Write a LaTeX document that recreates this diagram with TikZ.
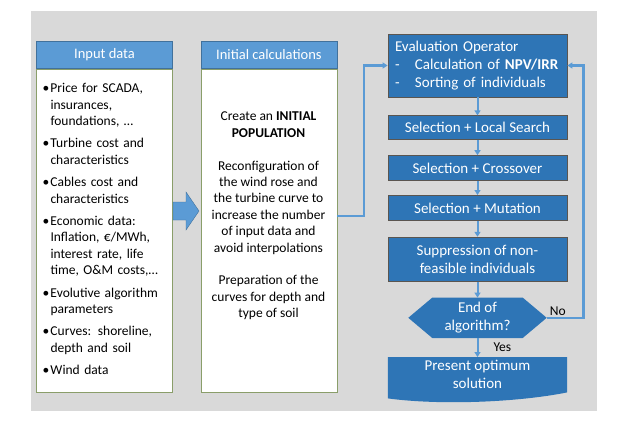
\documentclass[tikz,border=0pt]{standalone}
\usepackage{fontspec}
\setmainfont{Carlito}
\definecolor{hdblue}{HTML}{5B9BD5}
\definecolor{hdline}{HTML}{41719C}
\definecolor{opblue}{HTML}{2E75B6}
\definecolor{opline}{HTML}{5A5550}
\definecolor{bggray}{HTML}{D9D9D9}
\definecolor{olivebd}{HTML}{8A9E6A}
\usepackage{tikz}
\usetikzlibrary{arrows.meta,positioning,backgrounds}
\newcommand{\bul}[1]{\noindent\makebox[8pt][l]{\textbullet}\parbox[t]{116pt}{\raggedright\strut #1\strut}\par}

\begin{document}
\begin{tikzpicture}[x=1pt,y=-1pt,
  node distance=15pt,
  hd/.style={draw=hdline,fill=hdblue,text=white,minimum width=136pt,minimum height=27pt,
    inner sep=0pt,font=\fontsize{14.5}{17}\selectfont},
  bd/.style={draw=olivebd,fill=white,minimum width=136pt,minimum height=323pt,inner sep=0pt},
  txt/.style={font=\fontsize{13.5}{16.4}\selectfont,inner sep=0pt},
  op/.style={draw=opline,fill=opblue,text=white,line width=0.8pt,minimum width=179pt,
    inner sep=2pt,align=center,font=\fontsize{15}{18}\selectfont},
  arr/.style={-{Triangle[length=5pt,width=6pt]},hdblue,line width=2pt},
  lbl/.style={text=black,font=\fontsize{13.5}{16}\selectfont,inner sep=1pt}]
\useasboundingbox (0,0) rectangle (627,424);
\begin{scope}[on background layer]
  \fill[bggray] (31,11) rectangle (597,411);
\end{scope}
% input data
\node[hd] (inhd) at (104.5,55) {Input data};
\node[bd,txt,below=0pt of inhd,text width=124pt,align=left] (inbd) {%
\bul{Price for SCADA,\\ insurances,\\ foundations, …}\vspace{5pt}
\bul{Turbine cost and\\ characteristics}\vspace{5pt}
\bul{Cables cost and\\ characteristics}\vspace{5pt}
\bul{Economic data:\\ Inflation, €/MWh,\\ interest rate, life\\ time, O\&M costs,…}\vspace{5pt}
\bul{Evolutive algorithm\\ parameters}\vspace{5pt}
\bul{Curves: shoreline,\\ depth and soil}\vspace{5pt}
\bul{Wind data}};
% initial calculations
\node[hd,right=28pt of inhd] (ichd) {Initial calculations};
\node[bd,below=0pt of ichd] (icbd) {};
\node[txt,align=center] (ictx) at (268.5,216) {Create an \textbf{INITIAL}\\ \textbf{POPULATION}\\[16.4pt]
  Reconfiguration of\\ the wind rose and\\ the turbine curve to\\ increase the number\\
  of input data and\\ avoid interpolations\\[16.4pt]
  Preparation of the\\ curves for depth and\\ type of soil};
\fill[hdblue,draw=hdline,line width=0.4pt] (173,202) -- (186,202) -- (186,192) -- (199,211)
  -- (186,230) -- (186,220) -- (173,220) -- cycle;
% algorithm
\node[op,align=left,text width=165pt,minimum height=63pt] (eval) at (477.5,65.5) {Evaluation Operator\\
  \makebox[20pt][l]{-}Calculation of \textbf{NPV/IRR}\\
  \makebox[20pt][l]{-}Sorting of individuals};
\node[op,below=18pt of eval,minimum height=24pt] (ls) {Selection + Local Search};
\node[op,below=15pt of ls,minimum height=25pt] (co) {Selection + Crossover};
\node[op,below=14pt of co,minimum height=25pt] (mu) {Selection + Mutation};
\node[op,below=16pt of mu,minimum height=44pt] (su) {Suppression of non-\\feasible individuals};
\node[below=16pt of su,minimum width=138pt,minimum height=40pt,inner sep=0pt,text=white,
  align=center,font=\fontsize{15}{18}\selectfont] (endq) {End of\\algorithm?};
\node[below=19pt of endq,minimum width=179pt,minimum height=35pt,inner sep=0pt,text=white,
  align=center,font=\fontsize{15}{18}\selectfont] (pr) {Present optimum\\solution};
\begin{scope}[on background layer]
  \fill[opblue] (endq.west) -- ([xshift=24pt]endq.north west) -- ([xshift=-24pt]endq.north east)
    -- (endq.east) -- ([xshift=-24pt]endq.south east) -- ([xshift=24pt]endq.south west) -- cycle;
  \fill[opblue] (pr.north west) -- (pr.north east) -- (pr.south east)
    .. controls +(-50,10) and +(52,7) .. ([yshift=-6pt]pr.south west) -- cycle;
\end{scope}
\draw[arr] (eval) -- (ls);
\draw[arr] (ls) -- (co);
\draw[arr] (co) -- (mu);
\draw[arr] (mu) -- (su);
\draw[arr] (su) -- (endq);
\draw[arr] (endq) -- node[lbl,anchor=west,xshift=14pt]{Yes} (pr);
\draw[arr,line width=2.5pt] (icbd.east |- ictx) -- ++(27,0) |- (eval.west);
\draw[arr,line width=2.5pt] (endq.east) -- node[lbl,above,pos=0.3]{No} ++(37,0) |- (eval.east);
\end{tikzpicture}
\end{document}
